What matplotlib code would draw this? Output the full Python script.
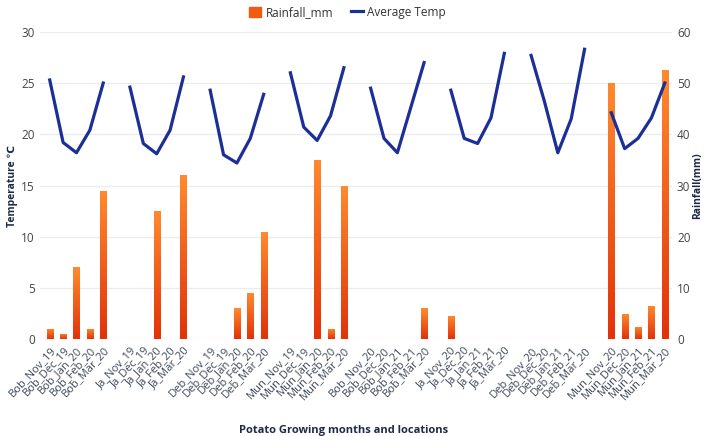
import numpy as np
import matplotlib.pyplot as plt
from matplotlib.colors import LinearSegmentedColormap

plt.rcParams['font.family'] = ['Open Sans', 'DejaVu Sans']

# season groups (location + season), 5 months each
locations = ['Bob', 'Ja', 'Deb', 'Mun', 'Bob', 'Ja', 'Deb', 'Mun']
months_1920 = ['Nov_19', 'Dec_19', 'Jan_20', 'Feb_20', 'Mar_20']
months_2021 = ['Nov_20', 'Dec_20', 'Jan_21', 'Feb_21', 'Mar_20']

# average temperature (left axis)
temp_bob_19 = [25.3, 19.2, 18.2, 20.4, 25.0]
temp_ja_19 = [24.6, 19.1, 18.1, 20.4, 25.6]
temp_deb_19 = [24.3, 18.0, 17.2, 19.6, 23.9]
temp_mun_19 = [26.0, 20.7, 19.4, 21.8, 26.5]
temp_bob_20 = [24.5, 19.6, 18.2, 22.6, 27.0]
temp_ja_20 = [24.3, 19.6, 19.1, 21.6, 27.9]
temp_deb_20 = [27.7, 23.2, 18.2, 21.5, 28.3]
temp_mun_20 = [22.1, 18.6, 19.6, 21.6, 25.0]

# rainfall in mm (right axis)
rain_bob_19 = [2, 1, 14, 2, 29]
rain_ja_19 = [0, 0, 25, 0, 32]
rain_deb_19 = [0, 0, 6, 9, 21]
rain_mun_19 = [0, 0, 35, 2, 30]
rain_bob_20 = [0, 0, 0, 0, 6]
rain_ja_20 = [4.6, 0, 0, 0, 0]
rain_deb_20 = [0, 0, 0, 0, 0]
rain_mun_20 = [50, 5, 2.4, 6.5, 52.5]

temps = [temp_bob_19, temp_ja_19, temp_deb_19, temp_mun_19,
         temp_bob_20, temp_ja_20, temp_deb_20, temp_mun_20]
rains = [rain_bob_19, rain_ja_19, rain_deb_19, rain_mun_19,
         rain_bob_20, rain_ja_20, rain_deb_20, rain_mun_20]

line_color = '#1B2F97'
text_color = '#3C4858'
bar_cmap = LinearSegmentedColormap.from_list('rain', ['#E2320A', '#FF8A2E'])

fig = plt.figure(figsize=(7.09, 4.36), dpi=100)
ax1 = fig.add_axes([0.056, 0.222, 0.892, 0.705])
ax2 = ax1.twinx()
ax1.set_zorder(ax2.get_zorder() + 1)
ax1.patch.set_visible(False)

positions, labels = [], []
for g, loc in enumerate(locations):
    months = months_1920 if g < 4 else months_2021
    xs = [g * 6 + i for i in range(5)]
    positions += xs
    labels += [loc + '_' + m for m in months]
    line, = ax1.plot(xs, temps[g], color=line_color, lw=2.3, solid_joinstyle='round')
    bars = ax2.bar(xs, rains[g], width=0.45, color='#F05A14', zorder=2)
    # orange-to-red gradient inside each bar
    for b in bars:
        if b.get_height() <= 0:
            continue
        x0, y0 = b.get_x(), b.get_y()
        grad = np.linspace(0, 1, 100).reshape(-1, 1)
        im = ax2.imshow(grad, cmap=bar_cmap, origin='lower', aspect='auto',
                        extent=[x0, x0 + b.get_width(), y0, y0 + b.get_height()], zorder=2)
        im.set_clip_path(b)

bar_handle = plt.Rectangle((0, 0), 1, 1, color='#F25A10')

ax1.set_xlim(-0.75, 46.55)
ax1.set_ylim(0, 30)
ax2.set_ylim(0, 60)
ax1.set_yticks(np.arange(0, 31, 5))
ax2.set_yticks(np.arange(0, 61, 10))
ax2.yaxis.grid(True, color='#ECECEC', lw=1)
ax2.set_axisbelow(True)

ax1.set_xticks(positions)
ax1.set_xticklabels(labels, rotation=47, ha='right', rotation_mode='anchor',
                    fontsize=8, color=text_color)
for ax in (ax1, ax2):
    for s in ax.spines.values():
        s.set_visible(False)
    ax.tick_params(length=0, labelsize=8.5, labelcolor='#444444')
ax1.tick_params(axis='x', pad=4, labelcolor=text_color, labelsize=8)

ax1.set_ylabel('Temperature ℃', fontsize=7.5, fontweight='bold', color='#1E2A44')
ax1.yaxis.set_label_coords(-0.035, 0.5)
ax2.set_ylabel('Rainfall(mm)', fontsize=7.5, fontweight='bold', color='#1E2A44', rotation=90)
ax2.yaxis.set_label_coords(1.032, 0.5)
ax1.set_xlabel('Potato Growing months and locations', fontsize=8, fontweight='bold',
               color='#1E2A44')
ax1.xaxis.set_label_coords(0.48, -0.28)

fig.legend([bar_handle, line], ['Rainfall_mm', 'Average Temp'], loc='center',
           bbox_to_anchor=(0.49, 0.972), ncol=2, frameon=False, fontsize=8.5,
           handlelength=1.0, handleheight=0.9, columnspacing=1.5, handletextpad=0.4,
           labelcolor='#333333')

fig.savefig('out.png', dpi=100)
